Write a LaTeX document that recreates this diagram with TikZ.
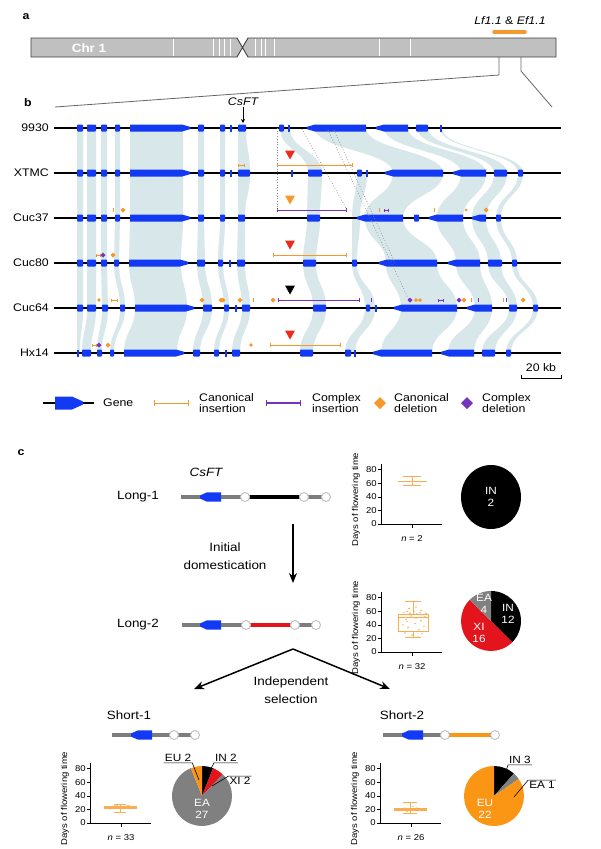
\documentclass[tikz,border=0pt]{standalone}
\usepackage{fontspec}
\setmainfont{Liberation Sans}[FakeStretch=1.12]
\usetikzlibrary{arrows.meta}

\definecolor{geneblue}{RGB}{18,58,245}
\definecolor{synt}{RGB}{215,231,234}
\definecolor{insor}{RGB}{247,152,45}
\definecolor{cxpur}{RGB}{118,52,190}
\definecolor{trired}{RGB}{238,42,28}
\definecolor{chrgray}{RGB}{192,192,192}
\definecolor{hapgray}{RGB}{125,125,125}
\definecolor{boxor}{RGB}{249,172,80}
\definecolor{piegray}{RGB}{128,128,128}
\definecolor{piered}{RGB}{228,20,28}
\definecolor{pieor}{RGB}{250,150,20}

\newcommand{\blk}[3]{\fill[geneblue,rounded corners=0.8pt] (#2,-#1-3.5) rectangle (#3,-#1+3.5);}
\newcommand{\thn}[2]{\fill[geneblue] (#2-0.6,-#1-3.5) rectangle (#2+0.6,-#1+3.5);}
\newcommand{\gR}[3]{\fill[geneblue] (#2,-#1+3.5) -- (#3-8,-#1+3.5) -- (#3,-#1+1.2) -- (#3,-#1-1.2) -- (#3-8,-#1-3.5) -- (#2,-#1-3.5) -- cycle;}
\newcommand{\gL}[3]{\fill[geneblue] (#2,-#1+1.2) -- (#2+8,-#1+3.5) -- (#3,-#1+3.5) -- (#3,-#1-3.5) -- (#2+8,-#1-3.5) -- (#2,-#1-1.2) -- cycle;}
\newcommand{\syn}[5]{\fill[synt] (#2,-#1) .. controls (#2,-#1-22) and (#4,-#1-23) .. (#4,-#1-45) -- (#5,-#1-45) .. controls (#5,-#1-23) and (#3,-#1-22) .. (#3,-#1) -- cycle;}
\newcommand{\dmd}[4]{\fill[#1] (#2,-#3+#4) -- (#2+#4,-#3) -- (#2,-#3-#4) -- (#2-#4,-#3) -- cycle;}
\newcommand{\insbar}[5]{\draw[#1,line width=0.8pt,{Bar[width=#5]}-{Bar[width=#5]}] (#2,-#4) -- (#3,-#4);}
\newcommand{\tickm}[3]{\fill[#1] (#2-0.5,-#3-2) rectangle (#2+0.5,-#3+2);}
\newcommand{\tridown}[3]{\fill[#1] (#2-5,-#3+4.5) -- (#2+5,-#3+4.5) -- (#2,-#3-4.5) -- cycle;}
\newcommand{\hapgene}[2]{\fill[geneblue] (#1,-#2+1.5) -- (#1+7,-#2+4.7) -- (#1+21,-#2+4.7) -- (#1+21,-#2-4.7) -- (#1+7,-#2-4.7) -- (#1,-#2-1.5) -- cycle;}
\newcommand{\pieslice}[5]{\fill[#5] (#1) -- ++(#2:#4) arc[start angle=#2, end angle=#3, radius=#4] -- cycle;}
\newcommand{\daysplot}[5]{%
  \begin{scope}[shift={(#1,-#2)},y=0.68pt]
    #5
    \draw[axisline] (0,88) -- (0,0) -- (61,0);
    \draw[axisline] (31,0) -- (31,-6);
    \foreach \t in {0,20,40,60,80} \draw[axisline] (0,\t) -- (-3,\t) node[ticklab] (#4-t\t) {\t};
    \node[nlab] (#4-n) at (31,-22) {\textit{n} = #3};
    \node[ylab] (#4-y) at (-25,36) {Days of flowering time};
  \end{scope}}

\begin{document}
\begin{tikzpicture}[x=1pt,y=1pt,
  every node/.style={inner sep=1pt},
  lbl/.style={font=\fontsize{11}{13}\selectfont},
  panel/.style={font=\fontsize{11}{13}\selectfont\bfseries},
  rowlab/.style={font=\fontsize{11}{13}\selectfont, anchor=east},
  track/.style={line width=1.2pt, black},
  zoomln/.style={line width=0.8pt, black!60},
  dotln/.style={black!45, dotted, line width=0.7pt},
  legtxt/.style={font=\fontsize{11}{11.5}\selectfont, align=left, anchor=west},
  hap/.style={line width=3.6pt, hapgray},
  hapseg/.style={line width=3.6pt},
  snp/.style={circle, fill=white, draw=black!25, line width=0.9pt, minimum size=9pt, inner sep=0pt},
  clab/.style={font=\fontsize{12}{18}\selectfont},
  bigarrow/.style={line width=1.5pt, -{Stealth[length=10pt,width=8pt]}},
  axisline/.style={line width=0.6pt, black},
  ticklab/.style={font=\fontsize{8.5}{9}\selectfont, anchor=east, inner sep=1pt},
  nlab/.style={font=\fontsize{8.5}{9}\selectfont},
  ylab/.style={font=\fontsize{8.5}{9}\selectfont, rotate=90},
  boxo/.style={boxor, line width=0.7pt},
  pielab/.style={font=\fontsize{10.5}{12}\selectfont, text=white, align=center},
  pietxt/.style={font=\fontsize{10.5}{12}\selectfont, inner sep=1pt},
  leader/.style={black, line width=0.6pt}
]
\useasboundingbox (0,0) rectangle (600,-849);

\node[panel] (pa) at (26,-17) {a};
\fill[chrgray] (31,-38) -- (237,-38) -- (242.5,-47.5) -- (237,-57) -- (31,-57) -- cycle;
\fill[chrgray] (248,-38) -- (556,-38) -- (556,-57) -- (248,-57) -- (242.5,-47.5) -- cycle;
\foreach \p in {173,213,219,224,230,255,261,265,274,379,410} \draw[white,line width=0.8pt] (\p,-39) -- (\p,-56);
\draw[black!75,line width=0.9pt] (31,-38) -- (237,-38) -- (248,-57) -- (556,-57) -- (556,-38) -- (248,-38) -- (237,-57) -- (31,-57) -- cycle;
\node[font=\fontsize{12}{14}\selectfont\bfseries, text=white] (chr) at (89,-48) {Chr 1};
\draw[insor,line width=3.5pt,line cap=round] (494,-32) -- (525,-32);
\node[lbl] (qtl) at (510,-21) {\textit{Lf1.1} \& \textit{Ef1.1}};
\draw[zoomln] (499,-57) -- (499,-75) -- (55,-107);
\draw[zoomln] (521,-57) -- (521,-71) -- (552,-107);

\node[panel] (pb) at (28,-103) {b};
\foreach \ua/\ub/\va/\vb/\wa/\wb/\xa/\xb/\ya/\yb/\za/\zb in {
  77/83/77/83/77/83/77/83/77/83/77/80,
  87/96/87/96/87/96/87/96/87/96/82/91,
  101/107/101/107/101/107/101/107/102/108/97/102,
  115/120/115/120/115/120/114/119/120/125/110/114,
  130/183/130/183/130/183/129/181/135/187/124/177,
  198/204/198/204/198/204/197/205/203/212/193/200,
  220/225/220/225/220/225/218/223/224/229/214/219,
  238/246/238/250/238/245/237/245/242/250/232/240,
  280/290/308/322/307/320/303/316/313/326/300/313,
  315/366/393/443/365/403/386/437/401/457/381/432,
  384/408/461/486/437/463/456/480/475/492/448/474,
  417/428/494/507/472/486/488/501/509/517/482/495,
  440/442/518/523/496/501/512/517/533/538/506/511}
  {\syn{128}{\ua}{\ub}{\va}{\vb}\syn{173}{\va}{\vb}{\wa}{\wb}\syn{218}{\wa}{\wb}{\xa}{\xb}\syn{263}{\xa}{\xb}{\ya}{\yb}\syn{308}{\ya}{\yb}{\za}{\zb}}
\syn{173}{357}{367}{352}{360}
\syn{218}{352}{360}{352}{357}
\syn{263}{352}{357}{365}{375}
\syn{308}{365}{375}{345}{355}

\foreach \y/\nm in {128/9930,173/XTMC,218/Cuc37,263/Cuc80,308/Cuc64,353/Hx14} {
  \node[rowlab] (row-\nm) at (50,-\y) {\nm};
  \draw[track] (54,-\y) -- (561,-\y);
}

\foreach \p/\q in {77/83,87/96,101/107,115/120,198/204,220/225,238/246,279/284,416/428} {\blk{128}{\p}{\q}}
\foreach \p in {231,289,441} {\thn{128}{\p}}
\gR{128}{130}{190} \gL{128}{307}{366} \gL{128}{376}{408}

\foreach \p/\q in {77/83,87/96,101/107,115/120,198/204,220/225,238/250,308/322,357/362,494/507,518/523} {\blk{173}{\p}{\q}}
\foreach \p in {231,292,367} {\thn{173}{\p}}
\gR{173}{130}{190} \gL{173}{385}{443} \gL{173}{453}{486}

\foreach \p/\q in {77/83,87/96,101/107,115/120,198/204,220/225,238/245,307/320,414/419,496/501} {\blk{218}{\p}{\q}}
\gR{218}{130}{190} \gL{218}{357}{403} \gL{218}{429}{463} \gL{218}{472}{486}

\foreach \p/\q in {77/83,87/96,101/107,114/119,197/205,218/223,237/245,303/316,352/357,488/502,512/517} {\blk{263}{\p}{\q}}
\thn{263}{230}
\gR{263}{129}{188} \gL{263}{379}{437} \gL{263}{448}{480}

\foreach \p/\q in {77/83,87/96,102/108,120/125,203/212,224/229,242/250,313/326,366/370,509/517,533/538} {\blk{308}{\p}{\q}}
\foreach \p in {236,376} {\thn{308}{\p}}
\gR{308}{135}{194} \gL{308}{394}{457} \gL{308}{467}{492}

\foreach \p/\q in {82/91,97/102,110/114,193/200,214/219,232/240,300/313,345/351,482/495,506/511} {\blk{353}{\p}{\q}}
\foreach \p in {78,226,355} {\thn{353}{\p}}
\gR{353}{124}{184} \gL{353}{373}{432} \gL{353}{441}{474}

\insbar{insor}{238}{245}{165}{3pt}
\insbar{insor}{277}{353}{165}{4pt}
\tridown{trired}{290}{155}

\tickm{insor}{113}{210} \dmd{insor}{123}{210}{2.5}
\tridown{insor}{290}{200}
\insbar{cxpur}{277}{347}{210}{4pt}
\tickm{insor}{379}{210} \insbar{cxpur}{384}{389}{210}{3pt}
\tickm{insor}{434}{210} \dmd{insor}{466}{210}{1.5} \dmd{insor}{486}{210}{2.5}

\insbar{insor}{96}{101}{255}{3pt} \dmd{cxpur}{103}{255}{2.5} \dmd{insor}{113}{255}{2.5}
\tridown{trired}{290}{245}
\insbar{insor}{273}{347}{255}{4pt}

\dmd{insor}{99}{300}{1.8} \insbar{insor}{111}{118}{300}{3pt}
\foreach \p in {202,221,223,240,273} {\dmd{insor}{\p}{300}{2.5}}
\tickm{insor}{253}{300}
\tridown{black}{290}{290}
\insbar{cxpur}{278}{360}{300}{4pt}
\tickm{cxpur}{371}{300} \dmd{cxpur}{410}{300}{2.5} \dmd{insor}{416}{300}{2} \dmd{insor}{420}{300}{2}
\insbar{cxpur}{438}{444}{300}{3pt} \dmd{cxpur}{459}{300}{2.5} \dmd{insor}{464}{300}{2.5}
\tickm{insor}{471}{300} \tickm{cxpur}{478}{300} \tickm{insor}{503}{300} \tickm{cxpur}{506}{300} \dmd{insor}{523}{300}{2.5}

\insbar{insor}{92}{97}{345}{3pt} \dmd{cxpur}{99}{345}{2.5} \dmd{insor}{108}{345}{2.5}
\dmd{insor}{251}{345}{1.8}
\tridown{trired}{290}{335}
\insbar{insor}{270}{341}{345}{4pt}

\draw[dotln] (277,-128) -- (277,-210);
\draw[dotln] (302,-129) -- (347,-210);
\draw[dotln] (328,-130) -- (409,-300);
\draw[dotln] (334,-130) -- (395,-263);

\node[lbl,font=\fontsize{11}{13}\selectfont\itshape] (csft-b) at (243,-102) {CsFT};
\coordinate (csft-gene) at (243,-123);
\draw[line width=0.8pt,-{Stealth[length=4pt,width=4pt]}] (csft-b) -- (csft-gene);

\node[lbl] (kb) at (541,-368) {20 kb};
\draw[line width=0.9pt] (521,-375) -- (521,-378) -- (561,-378) -- (561,-375);

\draw[track] (43,-403) -- (94,-403);
\fill[geneblue] (55,-396.5) -- (72,-396.5) -- (83,-401.5) -- (83,-404.5) -- (72,-409.5) -- (55,-409.5) -- cycle;
\node[legtxt] (leg-gene) at (102,-403) {Gene};
\insbar{insor}{154}{189}{403}{6pt}
\node[legtxt] (leg-cins) at (198,-403) {Canonical\\insertion};
\draw[cxpur,line width=1.1pt,{Bar[width=6pt]}-{Bar[width=6pt]}] (266,-403) -- (301,-403);
\node[legtxt] (leg-xins) at (311,-403) {Complex\\insertion};
\dmd{insor}{380}{403}{6}
\node[legtxt] (leg-cdel) at (393,-403) {Canonical\\deletion};
\dmd{cxpur}{467}{403}{6}
\node[legtxt] (leg-xdel) at (481,-403) {Complex\\deletion};

\node[panel] (pc) at (21,-453) {c};
\node[clab,font=\fontsize{12}{14}\selectfont\itshape] (csft-c) at (206,-472) {CsFT};

\node[clab] (long1) at (138,-497) {Long-1};
\draw[hap] (181,-497) -- (326,-497);
\hapgene{200}{497}
\node[snp] (l1a) at (245,-497) {};
\node[snp] (l1b) at (304,-497) {};
\node[snp] (l1c) at (326,-497) {};
\draw[hapseg,black] (l1a) -- (l1b);

\coordinate (dom-a) at (293,-524);
\coordinate (dom-b) at (293,-583);
\draw[bigarrow] (dom-a) -- (dom-b);
\node[clab,align=center] (dom) at (225,-556) {Initial\\domestication};

\node[clab] (long2) at (138,-625) {Long-2};
\draw[hap] (182,-625) -- (316,-625);
\hapgene{200}{625}
\node[snp] (l2a) at (246,-625) {};
\node[snp] (l2b) at (295,-625) {};
\node[snp] (l2c) at (316,-625) {};
\draw[hapseg,piered] (l2a) -- (l2b);

\coordinate (apex) at (293,-649);
\coordinate (sel-l) at (194,-689);
\coordinate (sel-r) at (390,-689);
\draw[bigarrow] (apex) -- (sel-l);
\draw[bigarrow] (apex) -- (sel-r);
\node[clab,align=center] (sel) at (291,-690) {Independent\\selection};

\node[clab] (short1) at (129,-715) {Short-1};
\draw[hap] (112,-735) -- (195,-735);
\hapgene{131}{735}
\node[snp] (s1a) at (174,-735) {};
\node[snp] (s1b) at (195,-735) {};

\node[clab] (short2) at (402,-715) {Short-2};
\draw[hap] (383,-735) -- (495,-735);
\hapgene{402}{735}
\node[snp] (s2a) at (445,-735) {};
\node[snp] (s2b) at (495,-735) {};
\draw[hapseg,pieor] (s2a) -- (s2b);

\daysplot{381}{524}{2}{bp1}{
  \draw[boxo] (17,63) -- (46,63) (31,57) -- (31,70) (22,57) -- (40,57) (22,70) -- (40,70);}
\daysplot{381}{652}{32}{bp2}{
  \draw[boxo] (17,30) rectangle (47,56) (17,51) -- (47,51) (32,56) -- (32,75) (32,30) -- (32,21) (24,75) -- (40,75) (24,21) -- (40,21);
  \foreach \p/\q in {20/55,23/58,26/60,29/57,33/59,36/56,39/58,42/55,45/57,21/51,25/48,30/53,35/50,40/46,44/52,22/40,27/36,34/42,38/33,43/38,24/28,31/25,37/22,41/27,28/64,35/66,26/45,40/61}
    \fill[boxor] (\p,\q) circle[radius=0.8pt];}
\daysplot{90}{823}{33}{bp3}{
  \draw[boxo] (14,21) rectangle (46,25) (14,23) -- (46,23) (30,25) -- (30,28) (30,21) -- (30,16) (24,28) -- (36,28) (24,16) -- (36,16);
  \foreach \p/\q in {16/23,19/24,22/22,25/25,28/23,31/24,34/22,37/25,40/23,43/24,20/21,27/26,33/21,39/26}
    \fill[boxor] (\p,\q) circle[radius=0.8pt];}
\daysplot{380}{823}{26}{bp4}{
  \draw[boxo] (14,18) rectangle (46,22) (14,20) -- (46,20) (30,22) -- (30,31) (30,18) -- (30,14) (23,31) -- (37,31) (23,14) -- (37,14);
  \foreach \p/\q in {16/20,19/21,22/19,25/22,28/20,31/21,34/19,37/22,40/20,43/21,27/17,33/24}
    \fill[boxor] (\p,\q) circle[radius=0.8pt];}

\coordinate (pie1) at (491,-497);
\fill[black] (pie1) ellipse[x radius=30, y radius=32];
\node[pielab] (p1-in) at (pie1) {IN\\2};

\coordinate (pie2) at (491,-621);
\pieslice{pie2}{90}{-45}{30}{black}
\pieslice{pie2}{-45}{-225}{30}{piered}
\pieslice{pie2}{-225}{-270}{30}{piegray}
\node[pielab] (p2-in) at (508,-614) {IN\\12};
\node[pielab] (p2-xi) at (479,-633) {XI\\16};
\node[pielab] (p2-ea) at (484,-604) {EA\\4};

\coordinate (pie3) at (202,-796);
\pieslice{pie3}{90}{68.2}{30}{black}
\pieslice{pie3}{68.2}{46.4}{30}{piered}
\pieslice{pie3}{46.4}{-248.2}{30}{piegray}
\pieslice{pie3}{-248.2}{-270}{30}{pieor}
\node[pielab] (p3-ea) at (202,-809) {EA\\27};
\node[pietxt] (p3-eu) at (178,-758) {EU 2};
\coordinate (p3-eu-end) at (199,-780);
\draw[leader] (p3-eu.south west) -- (p3-eu.south east) -- (p3-eu-end);
\node[pietxt] (p3-in) at (226,-758) {IN 2};
\coordinate (p3-in-end) at (206,-778);
\draw[leader] (p3-in.south east) -- (p3-in.south west) -- (p3-in-end);
\node[pietxt] (p3-xi) at (240,-781) {XI 2};
\coordinate (p3-xi-end) at (212,-786);
\draw[leader] (p3-xi.north east) -- (p3-xi.north west) -- (p3-xi-end);

\coordinate (pie4) at (494,-796);
\pieslice{pie4}{90}{48.5}{30}{black}
\pieslice{pie4}{48.5}{34.6}{30}{piegray}
\pieslice{pie4}{34.6}{-270}{30}{pieor}
\node[pielab] (p4-eu) at (485,-809) {EU\\22};
\node[pietxt] (p4-in) at (520,-760) {IN 3};
\coordinate (p4-in-end) at (503,-780);
\draw[leader] (p4-in.south east) -- (p4-in.south west) -- (p4-in-end);
\node[pietxt] (p4-ea) at (542,-785) {EA 1};
\coordinate (p4-ea-end) at (514,-797);
\draw[leader] (p4-ea.north east) -- (p4-ea.north west) -- (p4-ea-end);
\end{tikzpicture}
\end{document}
